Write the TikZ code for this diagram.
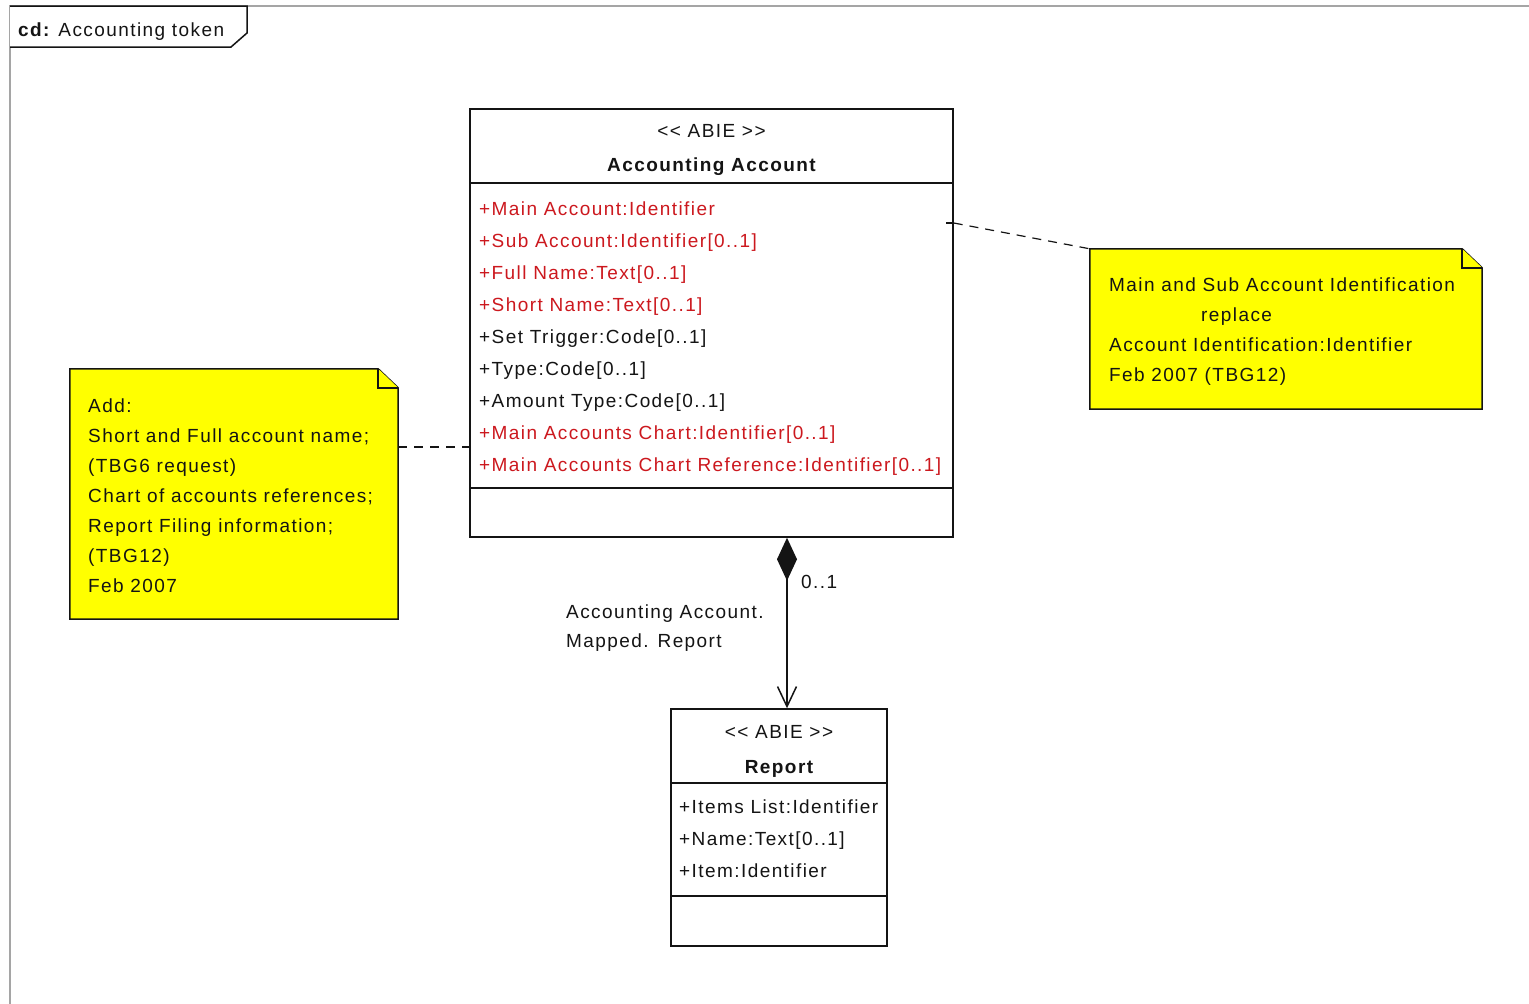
\documentclass[tikz,border=0pt]{standalone}
\usepackage{fontspec}
\setmainfont{Liberation Sans}
\newfontfamily\umlfont{Liberation Sans}[LetterSpace=7.5]
\usetikzlibrary{arrows.meta,calc}
\definecolor{attrred}{RGB}{204,24,30}
\definecolor{notefill}{RGB}{255,255,0}
\definecolor{framegray}{RGB}{165,165,165}
\definecolor{ink}{RGB}{20,20,20}
\begin{document}
\begin{tikzpicture}[x=1pt,y=-1pt,
  every node/.style={font=\umlfont\fontsize{19}{23}\selectfont, inner sep=0pt, text=ink},
  classbox/.style={draw=ink, line width=1.5pt, fill=white, rectangle},
  compline/.style={draw=ink, line width=1.5pt},
  attr/.style={anchor=base west},
  redattr/.style={anchor=base west, text=attrred},
  classtitle/.style={anchor=base, font=\umlfont\bfseries\fontsize{19}{23}\selectfont},
  stereo/.style={anchor=base},
  notebody/.style={draw=ink, line width=1.5pt, fill=notefill},
  notearea/.style={rectangle, draw=none},
  notetext/.style={anchor=base west},
  anchorline/.style={draw=ink, line width=1.2pt, dash pattern=on 9pt off 7pt},
  assoc/.style={draw=ink, line width=1.5pt,
    {Diamond[length=43pt,width=20pt]}-{Straight Barb[length=20pt,width=19pt,line width=1.5pt]}}
]
\useasboundingbox (0,0) rectangle (1529,1004);
\fill[white] (0,0) rectangle (1529,1004);

% diagram frame and its name tab
\draw[framegray, line width=2pt] (10,1004) -- (10,6) -- (1529,6);
\draw[ink, line width=1.5pt, fill=white] (10,6) -- (247,6) -- (247,33) -- (231,47) -- (10,47);
\node[anchor=base west] (tablabel) at (18,36) {{\bfseries cd:} Accounting token};

% class: Accounting Account
\node[classbox, minimum width=483pt, minimum height=428pt] (acc) at (711.5,323) {};
\draw[compline] (470,183) -- (953,183);
\draw[compline] (470,488) -- (953,488);
\node[stereo] (accst) at (711.5,137) {<< ABIE >>};
\node[classtitle] (acctitle) at (711.5,171) {Accounting Account};
\node[redattr] (a1) at (479,215) {+Main Account:Identifier};
\node[redattr] (a2) at (479,247) {+Sub Account:Identifier[0..1]};
\node[redattr] (a3) at (479,279) {+Full Name:Text[0..1]};
\node[redattr] (a4) at (479,311) {+Short Name:Text[0..1]};
\node[attr] (a5) at (479,343) {+Set Trigger:Code[0..1]};
\node[attr] (a6) at (479,375) {+Type:Code[0..1]};
\node[attr] (a7) at (479,407) {+Amount Type:Code[0..1]};
\node[redattr] (a8) at (479,439) {+Main Accounts Chart:Identifier[0..1]};
\node[redattr] (a9) at (479,471) {+Main Accounts Chart Reference:Identifier[0..1]};

% class: Report
\node[classbox, minimum width=216pt, minimum height=237pt] (rep) at (779,827.5) {};
\draw[compline] (671,783) -- (887,783);
\draw[compline] (671,896) -- (887,896);
\node[stereo] (repst) at (779,738) {<< ABIE >>};
\node[classtitle] (reptitle) at (779,773) {Report};
\node[attr] (r1) at (679,813) {+Items List:Identifier};
\node[attr] (r2) at (679,845) {+Name:Text[0..1]};
\node[attr] (r3) at (679,877) {+Item:Identifier};

% composition Accounting Account -> Report
\coordinate (ax) at (787,0);
\draw[assoc] (acc.south -| ax) -- (rep.north -| ax);
\node[anchor=base west] (mult) at (801,588) {0..1};
\node[anchor=base west] (role1) at (566,618) {Accounting Account.};
\node[anchor=base west] (role2) at (566,647) {Mapped. Report};

% note on the left
\node[notearea, minimum width=328pt, minimum height=250pt] (n1) at (234,494) {};
\draw[notebody] (n1.south west) -- (n1.north west) -- ([xshift=-20pt]n1.north east)
  -- ([yshift=-19pt]n1.north east) -- (n1.south east) -- cycle;
\draw[notebody] ([xshift=-20pt]n1.north east) |- ([yshift=-19pt]n1.north east);
\node[notetext] (t1) at (88,412) {Add:};
\node[notetext] (t2) at (88,442) {Short and Full account name;};
\node[notetext] (t3) at (88,472) {(TBG6 request)};
\node[notetext] (t4) at (88,502) {Chart of accounts references;};
\node[notetext] (t5) at (88,532) {Report Filing information;};
\node[notetext] (t6) at (88,562) {(TBG12)};
\node[notetext] (t7) at (88,592) {Feb 2007};

% note on the right
\node[notearea, minimum width=392pt, minimum height=160pt] (n2) at (1286,329) {};
\draw[notebody] (n2.south west) -- (n2.north west) -- ([xshift=-20pt]n2.north east)
  -- ([yshift=-19pt]n2.north east) -- (n2.south east) -- cycle;
\draw[notebody] ([xshift=-20pt]n2.north east) |- ([yshift=-19pt]n2.north east);
\node[notetext] (u1) at (1109,291) {Main and Sub Account Identification};
\node[notetext] (u2) at (1201,321) {replace};
\node[notetext] (u3) at (1109,351) {Account Identification:Identifier};
\node[notetext] (u4) at (1109,381) {Feb 2007 (TBG12)};

% note anchors
\coordinate (l1) at (0,447);
\coordinate (rr) at (0,223);
\draw[anchorline] (n1.east |- l1) -- (acc.west |- l1);
\draw[ink, line width=1.2pt] (acc.east |- rr) -- ++(-8,0);
\draw[anchorline] (acc.east |- rr) -- (n2.north west);
\end{tikzpicture}
\end{document}
